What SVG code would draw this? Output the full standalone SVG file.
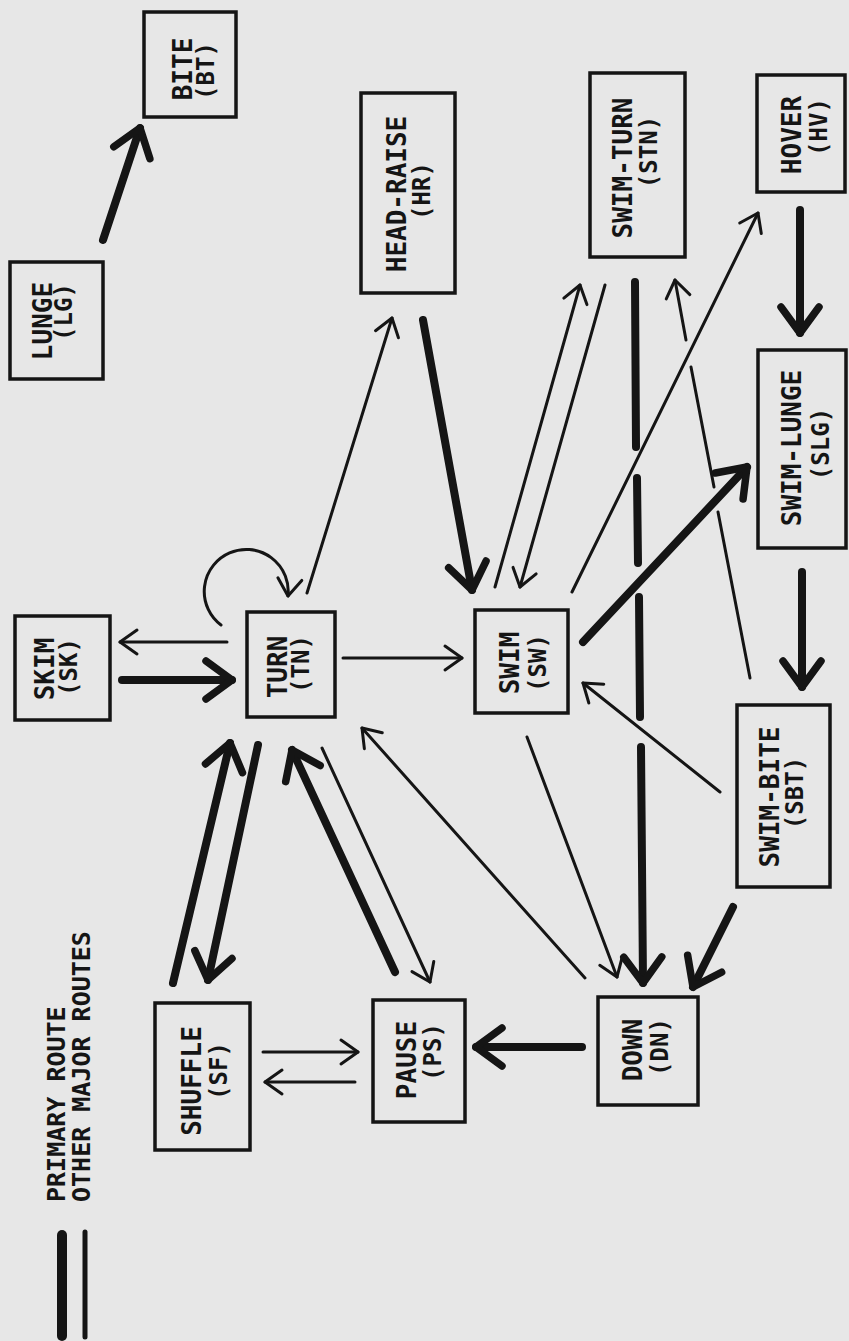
<svg xmlns="http://www.w3.org/2000/svg" width="849" height="1341" viewBox="0 0 849 1341">
  <style>
    .box { fill: none; stroke: #151515; stroke-width: 3.5; }
    .lbl { font-family: "DejaVu Sans Mono", "Liberation Mono", monospace; font-weight: bold; font-size: 26px; fill: #151515; text-anchor: middle; }
    .sub { font-size: 24px; }
    .leg { text-anchor: start; font-size: 25px; }
    .thin { fill: none; stroke: #151515; stroke-width: 3; stroke-linecap: round; }
    .thick { fill: none; stroke: #151515; stroke-width: 8; stroke-linecap: round; }
    .thin.arr { marker-end: url(#hThin); }
    .thick.arr { marker-end: url(#hThick); }
  </style>
  <defs>
    <marker id="hThin" markerUnits="userSpaceOnUse" orient="auto" overflow="visible" markerWidth="1" markerHeight="1" refX="0" refY="0">
      <path d="M-17,-12 L0,0 L-17,12" fill="none" stroke="#151515" stroke-width="3" stroke-linecap="round" stroke-linejoin="round"/>
    </marker>
    <marker id="hThick" markerUnits="userSpaceOnUse" orient="auto" overflow="visible" markerWidth="1" markerHeight="1" refX="0" refY="0">
      <path d="M-26,-19 L0,0 L-26,19" fill="none" stroke="#151515" stroke-width="7.5" stroke-linecap="round" stroke-linejoin="round"/>
    </marker>
  </defs>

  <rect x="0" y="0" width="849" height="1341" fill="#e7e7e7"/>

  <!-- connectors -->
  <g id="connectors">
    <!-- primary routes -->
    <path class="thick arr" d="M103,240 L140,128"/>
    <path class="thick arr" d="M122,680 L232,680"/>
    <path class="thick arr" d="M423,320 L472,590"/>
    <path class="thick" d="M635,282 L636,447"/>
    <path class="thick" d="M637,478 L638,563"/>
    <path class="thick" d="M639,597 L640,717"/>
    <path class="thick arr" d="M641,747 L643,983"/>
    <path class="thick arr" d="M583,642 L747,467"/>
    <path class="thick arr" d="M800,210 L800,333"/>
    <path class="thick arr" d="M802,572 L802,687"/>
    <path class="thick arr" d="M733,907 L693,987"/>
    <path class="thick arr" d="M258,745 L208,980"/>
    <path class="thick arr" d="M173,983 L230,743"/>
    <path class="thick arr" d="M395,972 L292,750"/>
    <path class="thick arr" d="M582,1047 L476,1047"/>

    <!-- other major routes -->
    <path class="thin arr" d="M227,642 L120,642"/>
    <path class="thin arr" d="M221,625 A42,42 0 1 1 288,596"/>
    <path class="thin arr" d="M307,593 L392,318"/>
    <path class="thin arr" d="M343,658 L462,658"/>
    <path class="thin arr" d="M495,587 L580,285"/>
    <path class="thin arr" d="M605,285 L520,587"/>
    <path class="thin arr" d="M572,592 L758,213"/>
    <path class="thin" d="M750,678 L718,512"/>
    <path class="thin" d="M714,487 L691,367"/>
    <path class="thin arr" d="M686,340 L675,280"/>
    <path class="thin arr" d="M720,792 L583,683"/>
    <path class="thin arr" d="M527,737 L617,977"/>
    <path class="thin arr" d="M585,978 L362,728"/>
    <path class="thin arr" d="M322,748 L430,982"/>
    <path class="thin arr" d="M263,1052 L358,1052"/>
    <path class="thin arr" d="M355,1082 L265,1082"/>
  </g>

  <!-- nodes -->
  <g id="bite">
    <rect class="box" x="144" y="12" width="92" height="105"/>
    <text class="lbl" transform="translate(192,69) rotate(-90)">BITE</text>
    <text class="lbl sub" transform="translate(214,71) rotate(-90)">(BT)</text>
  </g>
  <g id="lunge">
    <rect class="box" x="10" y="262" width="93" height="117"/>
    <text class="lbl" transform="translate(52,321) rotate(-90)">LUNGE</text>
    <text class="lbl sub" transform="translate(72,312) rotate(-90)">(LG)</text>
  </g>
  <g id="head-raise">
    <rect class="box" x="361" y="93" width="94" height="200"/>
    <text class="lbl" transform="translate(406,194) rotate(-90)">HEAD-RAISE</text>
    <text class="lbl sub" transform="translate(430,191) rotate(-90)">(HR)</text>
  </g>
  <g id="swim-turn">
    <rect class="box" x="590" y="73" width="95" height="184"/>
    <text class="lbl" transform="translate(632,168) rotate(-90)">SWIM-TURN</text>
    <text class="lbl sub" transform="translate(657,152) rotate(-90)">(STN)</text>
  </g>
  <g id="hover">
    <rect class="box" x="757" y="75" width="88" height="117"/>
    <text class="lbl" transform="translate(801,135) rotate(-90)">HOVER</text>
    <text class="lbl sub" transform="translate(827,127) rotate(-90)">(HV)</text>
  </g>
  <g id="swim-lunge">
    <rect class="box" x="758" y="350" width="88" height="198"/>
    <text class="lbl" transform="translate(801,448) rotate(-90)">SWIM-LUNGE</text>
    <text class="lbl sub" transform="translate(829,444) rotate(-90)">(SLG)</text>
  </g>
  <g id="skim">
    <rect class="box" x="15" y="616" width="95" height="104"/>
    <text class="lbl" transform="translate(54,669) rotate(-90)">SKIM</text>
    <text class="lbl sub" transform="translate(77,667) rotate(-90)">(SK)</text>
  </g>
  <g id="turn">
    <rect class="box" x="247" y="612" width="88" height="105"/>
    <text class="lbl" transform="translate(287,667) rotate(-90)">TURN</text>
    <text class="lbl sub" transform="translate(309,664) rotate(-90)">(TN)</text>
  </g>
  <g id="swim">
    <rect class="box" x="475" y="610" width="93" height="103"/>
    <text class="lbl" transform="translate(519,663) rotate(-90)">SWIM</text>
    <text class="lbl sub" transform="translate(546,663) rotate(-90)">(SW)</text>
  </g>
  <g id="swim-bite">
    <rect class="box" x="737" y="705" width="93" height="182"/>
    <text class="lbl" transform="translate(779,797) rotate(-90)">SWIM-BITE</text>
    <text class="lbl sub" transform="translate(803,793) rotate(-90)">(SBT)</text>
  </g>
  <g id="shuffle">
    <rect class="box" x="155" y="1003" width="95" height="147"/>
    <text class="lbl" transform="translate(201,1081) rotate(-90)">SHUFFLE</text>
    <text class="lbl sub" transform="translate(227,1071) rotate(-90)">(SF)</text>
  </g>
  <g id="pause">
    <rect class="box" x="373" y="1000" width="92" height="122"/>
    <text class="lbl" transform="translate(416,1060) rotate(-90)">PAUSE</text>
    <text class="lbl sub" transform="translate(441,1052) rotate(-90)">(PS)</text>
  </g>
  <g id="down">
    <rect class="box" x="598" y="997" width="100" height="108"/>
    <text class="lbl" transform="translate(642,1050) rotate(-90)">DOWN</text>
    <text class="lbl sub" transform="translate(668,1047) rotate(-90)">(DN)</text>
  </g>

  <!-- key -->
  <g id="legend">
    <path d="M62,1235 L62,1336" stroke="#151515" stroke-width="10" stroke-linecap="round"/>
    <path d="M85,1232 L85,1337" stroke="#151515" stroke-width="5" stroke-linecap="round"/>
    <text class="lbl leg" transform="translate(65,1202) rotate(-90)">PRIMARY ROUTE</text>
    <text class="lbl leg" transform="translate(90,1202) rotate(-90)">OTHER MAJOR ROUTES</text>
  </g>
</svg>
